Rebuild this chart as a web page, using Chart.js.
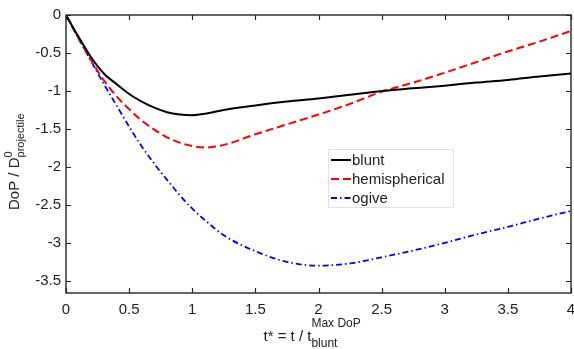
<!DOCTYPE html>
<html>
<head>
<meta charset="utf-8">
<script src="https://cdn.jsdelivr.net/npm/chart.js@4"></script>
<style>
  html, body { margin: 0; padding: 0; background: #ffffff; }
  canvas { display: block; }
</style>
</head>
<body>
<canvas id="c" width="574" height="349"></canvas>
<script>
// ---- data ----
const tValues = [0, 0.1, 0.2, 0.3, 0.4, 0.5, 0.6, 0.7, 0.8, 0.9, 1.0, 1.1, 1.25, 1.5, 1.75, 2.0, 2.25, 2.5, 2.75, 3.0, 3.25, 3.5, 3.75, 4.0];
const bluntValues = [0, -0.29, -0.56, -0.77, -0.91, -1.04, -1.14, -1.22, -1.28, -1.31, -1.32, -1.30, -1.25, -1.19, -1.14, -1.10, -1.05, -1.00, -0.965, -0.93, -0.89, -0.855, -0.81, -0.77];
const hemisphericalValues = [0, -0.31, -0.60, -0.86, -1.07, -1.24, -1.39, -1.51, -1.61, -1.68, -1.725, -1.745, -1.71, -1.57, -1.44, -1.31, -1.17, -1.01, -0.89, -0.76, -0.62, -0.48, -0.35, -0.21];
const ogiveValues = [0, -0.31, -0.61, -0.91, -1.19, -1.47, -1.73, -1.96, -2.17, -2.37, -2.55, -2.70, -2.90, -3.11, -3.25, -3.30, -3.27, -3.19, -3.10, -3.00, -2.89, -2.79, -2.68, -2.58];
const seriesLabels = ['blunt', 'hemispherical', 'ogive'];
const xTicks = [0, 0.5, 1, 1.5, 2, 2.5, 3, 3.5, 4];
const xTickLabels = ['0', '0.5', '1', '1.5', '2', '2.5', '3', '3.5', '4'];
const yTicks = [-3.5, -3, -2.5, -2, -1.5, -1, -0.5, 0];
const yTickLabels = ['-3.5', '-3', '-2.5', '-2', '-1.5', '-1', '-0.5', '0'];

const FONT = "'Liberation Sans', Arial, Helvetica, sans-serif";
const TXT = '#222222';

function pts(ys) { return tValues.map((t, i) => ({ x: t, y: ys[i] })); }

const styles = [
  { color: '#000000', dash: [], width: 2 },
  { color: '#ff0000', dash: [8, 4], width: 2 },
  { color: '#0000ff', dash: [6, 3, 1.5, 3], width: 1.8 }
];

const datasets = [bluntValues, hemisphericalValues, ogiveValues].map((vals, i) => ({
  label: seriesLabels[i],
  data: pts(vals),
  borderColor: styles[i].color,
  borderDash: styles[i].dash,
  borderWidth: styles[i].width,
  pointRadius: 0,
  fill: false,
  cubicInterpolationMode: 'monotone'
}));

const decor = {
  id: 'decor',
  beforeDraw(chart) {
    const ctx = chart.ctx;
    ctx.save();
    ctx.fillStyle = '#ffffff';
    ctx.fillRect(0, 0, chart.width, chart.height);
    ctx.restore();
  },
  afterDatasetsDraw(chart) {
    const { ctx, chartArea: a, scales: { x, y } } = chart;
    ctx.save();
    // frame
    ctx.strokeStyle = '#262626';
    ctx.lineWidth = 1.4;
    ctx.setLineDash([]);
    ctx.strokeRect(a.left, a.top, a.right - a.left, a.bottom - a.top);
    // inward ticks on all four sides
    const L = 5;
    ctx.lineWidth = 1.2;
    ctx.beginPath();
    xTicks.forEach(v => {
      const p = Math.round(x.getPixelForValue(v)) + 0.5;
      ctx.moveTo(p, a.bottom); ctx.lineTo(p, a.bottom - L);
      ctx.moveTo(p, a.top); ctx.lineTo(p, a.top + L);
    });
    yTicks.forEach(v => {
      const p = Math.round(y.getPixelForValue(v)) + 0.5;
      ctx.moveTo(a.left, p); ctx.lineTo(a.left + L, p);
      ctx.moveTo(a.right, p); ctx.lineTo(a.right - L, p);
    });
    ctx.stroke();

    // legend box
    const lx = 328, ly = 149, lw = 125, lh = 58;
    ctx.fillStyle = '#ffffff';
    ctx.fillRect(lx, ly, lw, lh);
    ctx.strokeStyle = '#e2e2e2';
    ctx.lineWidth = 1;
    ctx.strokeRect(lx + 0.5, ly + 0.5, lw, lh);
    ctx.font = '15px ' + FONT;
    ctx.textBaseline = 'middle';
    ctx.textAlign = 'left';
    chart.data.datasets.forEach((ds, i) => {
      const ry = 160 + i * 19;
      ctx.strokeStyle = ds.borderColor;
      ctx.lineWidth = ds.borderWidth;
      ctx.setLineDash(ds.borderDash);
      ctx.beginPath();
      ctx.moveTo(331, ry); ctx.lineTo(351, ry);
      ctx.stroke();
      ctx.setLineDash([]);
      ctx.fillStyle = TXT;
      ctx.fillText(ds.label, 352, ry + 1);
    });
    ctx.restore();
  },
  afterDraw(chart) {
    const { ctx, chartArea: a } = chart;
    ctx.save();
    ctx.fillStyle = TXT;
    ctx.textBaseline = 'alphabetic';
    ctx.textAlign = 'left';
    // x axis title: t* = t / t^{Max DoP}_{blunt}
    const cx = (a.left + a.right) / 2;
    ctx.font = '15px ' + FONT;
    const main = 't* = t / t';
    const mw = ctx.measureText(main).width;
    const startX = cx - 55;
    ctx.fillText(main, startX, 340.5);
    ctx.font = '12px ' + FONT;
    ctx.fillText('Max DoP', startX + mw, 326.5);
    ctx.fillText('blunt', startX + mw, 346.5);

    // y axis title: DoP / D^0_{projectile}
    ctx.translate(18.5, 210);
    ctx.rotate(-Math.PI / 2);
    ctx.font = '15px ' + FONT;
    const ym = 'DoP / D';
    const yw = ctx.measureText(ym).width;
    ctx.fillText(ym, 0, 0);
    ctx.font = '11px ' + FONT;
    ctx.fillText('0', yw, -6.5);
    ctx.fillText('projectile', yw, 5);
    ctx.restore();
  }
};

new Chart(document.getElementById('c'), {
  type: 'line',
  data: { datasets },
  plugins: [decor],
  options: {
    responsive: false,
    devicePixelRatio: 1,
    animation: false,
    layout: { padding: { top: 15, right: 3, left: 0, bottom: 0 } },
    plugins: { legend: { display: false }, tooltip: { enabled: false } },
    scales: {
      x: {
        type: 'linear',
        min: 0, max: 4,
        grid: { display: false, drawTicks: false, tickLength: 0 },
        border: { display: false },
        afterBuildTicks: s => { s.ticks = xTicks.map(v => ({ value: v })); },
        afterFit: s => { s.height = 56; s.paddingLeft = 0; s.paddingRight = 0; },
        ticks: {
          padding: 8,
          maxRotation: 0,
          color: TXT,
          font: { family: FONT, size: 15 },
          callback: (v) => { const i = xTicks.indexOf(v); return i >= 0 ? xTickLabels[i] : ''; }
        }
      },
      y: {
        type: 'linear',
        min: -3.66, max: 0,
        grid: { display: false, drawTicks: false, tickLength: 0 },
        border: { display: false },
        afterBuildTicks: s => { s.ticks = yTicks.map(v => ({ value: v })); },
        afterFit: s => { s.width = 66; s.paddingTop = 0; s.paddingBottom = 0; },
        ticks: {
          padding: 5,
          color: TXT,
          font: { family: FONT, size: 15 },
          callback: (v) => { const i = yTicks.indexOf(v); return i >= 0 ? yTickLabels[i] : ''; }
        }
      }
    }
  }
});
</script>
</body>
</html>
